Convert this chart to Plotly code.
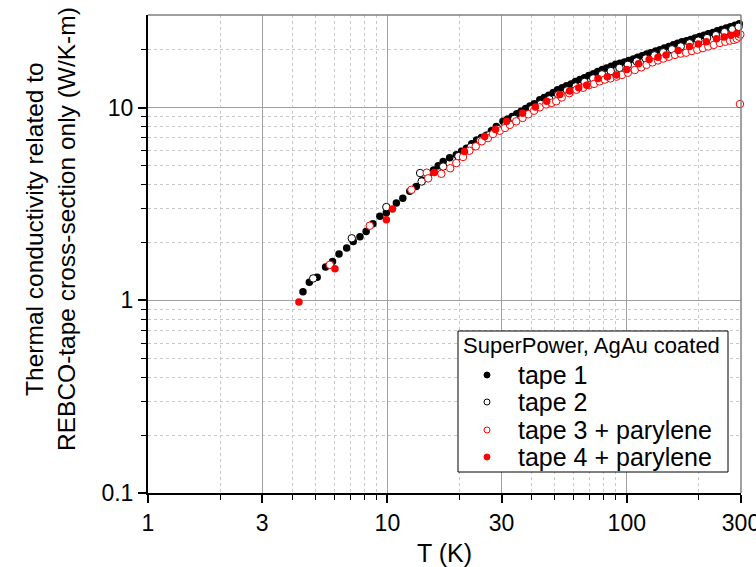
import plotly.graph_objects as go

# ---------------- data ----------------
tape1_T = [4.44, 4.72, 5.09, 5.52, 5.9, 6.28, 6.76, 7.2, 7.68, 8.15, 8.7, 9.3, 9.9, 10.9, 11.6,
           12.4, 13.2, 14.0, 14.8, 15.6, 16.3, 17.1, 18.2, 19.4, 20.4, 21.4, 22.5, 23.6, 24.7,
           25.9, 27.2, 28.5, 30.4, 31.8, 33.2, 34.7, 36.2, 37.8, 39.4, 41.1, 43.3, 45.2, 47.2,
           49.3, 51.4, 53.7, 56, 58.5, 61, 63.7, 66.5, 69.4, 72.5, 75.6, 79, 82.4, 86, 89.8,
           93.7, 97.8, 102, 106.5, 111, 116, 121, 126, 132, 137.5, 143.5, 150, 156.5, 163, 170,
           177.5, 185, 193, 201.5, 210, 219, 229, 239, 249, 260, 271, 283, 295]
tape1_k = [1.11, 1.24, 1.32, 1.49, 1.59, 1.74, 1.87, 2.02, 2.14, 2.28, 2.5, 2.73, 2.85, 3.2, 3.39,
           3.68, 3.9, 4.2, 4.45, 4.75, 5.0, 5.26, 5.5, 5.7, 5.95, 6.17, 6.5, 6.8, 7.0,
           7.2, 7.6, 8.0, 8.5, 8.75, 9.0, 9.3, 9.6, 9.9, 10.2, 10.5, 11.0, 11.3, 11.6,
           12.0, 12.4, 12.7, 13.0, 13.3, 13.7, 14.0, 14.3, 14.7, 15.0, 15.4, 15.8, 16.1, 16.4, 16.8,
           17.0, 17.3, 17.6, 17.9, 18.3, 18.6, 19.0, 19.3, 19.7, 20.0, 20.4, 20.8, 21.2, 21.6, 22.0,
           22.3, 22.6, 23.0, 23.4, 23.8, 24.2, 24.6, 25.1, 25.5, 25.9, 26.3, 26.8, 27.3]

tape2_T = [4.9, 7.1, 9.9, 13.7, 13.9, 17.1, 19.8, 22.3, 24.4, 26.6, 29, 31.2, 33.9, 36.9, 40.2,
           43.7, 47.5, 51.7, 56.3, 61.2, 66.6, 72.4, 78.8, 85.7, 93.2, 101, 110, 120, 130.5,
           142, 154.5, 168, 183, 199, 216.5, 235.5, 256, 276, 293]
tape2_k = [1.30, 2.1, 3.05, 4.58, 4.14, 4.95, 5.6, 6.25, 6.75, 7.2, 7.75, 8.2, 8.75, 9.3, 9.85,
           10.45, 11.05, 11.7, 12.3, 12.9, 13.6, 14.2, 14.9, 15.5, 16.1, 16.7, 17.4, 18.0, 18.7,
           19.4, 20.1, 20.8, 21.6, 22.3, 23.0, 23.8, 24.7, 25.5, 26.3]

tape3_T = [5.75, 8.44, 12.6, 14.6, 14.8, 16.8, 18.3, 19.4, 20.7, 22, 23.4, 24.8, 26.3, 27.6, 29.5,
           31, 32.5, 34.5, 36.7, 38.8, 41, 43.3, 46, 48.5, 50.7, 53.5, 57.5, 61.6, 65.7, 69.5,
           73, 77, 81, 85.5, 90.6, 95.5, 101, 108, 115, 121, 128, 135, 142, 150, 159, 168, 177,
           187, 197, 208, 219, 231, 245, 258, 270, 280, 288, 294, 298, 297]
tape3_k = [1.53, 2.44, 3.75, 4.6, 4.3, 4.54, 4.85, 5.16, 5.55, 5.98, 6.3, 6.7, 6.95, 7.3, 7.6,
           7.85, 8.15, 8.5, 8.85, 9.25, 9.65, 10.05, 10.4, 10.6, 10.8, 11.3, 11.9, 12.4, 12.7, 13.1,
           13.3, 13.7, 14.0, 14.2, 14.5, 14.8, 15.2, 15.7, 16.2, 16.7, 17.2, 17.6, 18.0, 18.4, 18.8, 19.1, 19.3,
           19.7, 20.0, 20.4, 20.8, 21.2, 21.7, 22.0, 22.3, 22.5, 22.8, 23.4, 24.0, 10.45]

tape4_T = [4.27, 6.04, 9.9, 10.5, 15.7, 21, 25.5, 28.3, 31.5, 36.7, 41.5, 46.3, 52.5, 57.7, 63,
           68, 75.8, 83, 90.6, 100, 112, 124, 135, 146, 164, 183, 199, 215, 237, 255, 272, 288, 300]
tape4_k = [0.98, 1.46, 2.62, 2.98, 4.61, 5.93, 7.1, 7.7, 8.5, 9.37, 10.1, 10.8, 11.7, 12.2, 12.7,
           13.1, 14.2, 14.5, 14.8, 15.8, 16.9, 17.8, 18.3, 18.8, 19.8, 20.8, 21.4, 22.0, 22.8, 23.3, 23.8, 24.3, 24.8]

legend_title = "SuperPower, AgAu coated"
names = ["tape 1", "tape 2", "tape 3 + parylene", "tape 4 + parylene"]

x_major = [1, 3, 10, 30, 100, 300]
x_minor = [2, 4, 5, 6, 7, 8, 9, 20, 40, 50, 60, 70, 80, 90, 200]
y_major = [0.1, 1, 10]
y_minor = [0.2, 0.3, 0.4, 0.5, 0.6, 0.7, 0.8, 0.9, 2, 3, 4, 5, 6, 7, 8, 9, 20]

# ---------------- layout constants (pixels) ----------------
W, H = 756, 567
L, R, T, B = 148, 15, 15, 74
PW, PH = W - L - R, H - T - B


def px(xp):
    return (xp - L) / PW


def py(yp):
    return (H - B - yp) / PH


# ---------------- figure ----------------
fill_col = ["black", "white", "white", "red"]
edge_col = ["black", "black", "red", "red"]
edge_w = [0, 1, 1, 0]
series = [(tape1_T, tape1_k), (tape2_T, tape2_k), (tape3_T, tape3_k), (tape4_T, tape4_k)]

fig = go.Figure()
for (xs, ys), fc, ec, ew, nm in zip(series, fill_col, edge_col, edge_w, names):
    fig.add_trace(go.Scatter(x=xs, y=ys, mode="markers", name=nm, showlegend=False,
                             cliponaxis=False,
                             marker=dict(symbol="circle", size=7.5, color=fc,
                                         line=dict(color=ec, width=ew))))

font = "Liberation Sans, Arial, sans-serif"
fig.update_layout(
    width=W, height=H,
    margin=dict(l=L, r=R, t=T, b=B),
    paper_bgcolor="white", plot_bgcolor="white",
    font=dict(family=font, color="black", size=20),
    showlegend=False,
)

fig.update_xaxes(
    type="log", range=[0, 2.47712], automargin=False, ticklabeloverflow="allow",
    tickvals=x_major, ticktext=[str(v) for v in x_major],
    tickfont=dict(size=23), ticks="outside", ticklen=8, tickwidth=1.5, tickcolor="black",
    showline=True, linecolor="black", linewidth=2,
    showgrid=True, gridcolor="#a0a0a0", gridwidth=1,
    minor=dict(tickvals=x_minor, ticks="outside", ticklen=5, tickwidth=1.2, tickcolor="black",
               showgrid=True, gridcolor="#c8c8c8", griddash="dot", gridwidth=1),
    zeroline=False,
    title=dict(text="T (K)", font=dict(size=25), standoff=10),
)
fig.update_yaxes(
    type="log", range=[-1, 1.4814], automargin=False,
    tickvals=y_major, ticktext=["0.1", "1", "10"],
    tickfont=dict(size=23), ticks="outside", ticklen=8, tickwidth=1.5, tickcolor="black",
    showline=True, linecolor="black", linewidth=2,
    showgrid=True, gridcolor="#a0a0a0", gridwidth=1,
    minor=dict(tickvals=y_minor, ticks="outside", ticklen=5, tickwidth=1.2, tickcolor="black",
               showgrid=True, gridcolor="#c8c8c8", griddash="dot", gridwidth=1),
    zeroline=False,
)

# top and right frame (gray)
fig.add_shape(type="line", xref="paper", yref="paper", x0=0, x1=1, y0=1, y1=1,
              line=dict(color="#808080", width=1.5))
fig.add_shape(type="line", xref="paper", yref="paper", x0=1, x1=1, y0=0, y1=1,
              line=dict(color="#808080", width=1.5))

# y axis title (two lines)
fig.add_annotation(xref="paper", yref="paper", x=0, y=py(229), xshift=-98,
                   xanchor="center", yanchor="middle", textangle=-90, showarrow=False,
                   text="Thermal conductivity related to<br>REBCO-tape cross-section only (W/K-m)",
                   font=dict(size=24.5, family=font, color="black"))

# legend box (drawn manually to match the reference layout)
fig.add_shape(type="rect", xref="paper", yref="paper",
              x0=px(458), x1=px(728), y0=py(472), y1=py(331),
              line=dict(color="black", width=1), fillcolor="white", layer="above")
fig.add_annotation(xref="paper", yref="paper", x=px(462), y=py(345), xanchor="left",
                   yanchor="middle", showarrow=False, text=legend_title, borderpad=0,
                   font=dict(size=22, family=font, color="black"))
item_y = [375, 402, 430, 457]
for nm, fc, ec, yy in zip(names, fill_col, edge_col, item_y):
    fig.add_shape(type="circle", xref="paper", yref="paper",
                  x0=px(484), x1=px(490), y0=py(yy + 3), y1=py(yy - 3),
                  fillcolor=fc, line=dict(color=ec, width=1), layer="above")
    fig.add_annotation(xref="paper", yref="paper", x=px(517), y=py(yy), xanchor="left",
                       yanchor="middle", showarrow=False, text=nm, borderpad=0,
                       font=dict(size=25, family=font, color="black"))

fig.write_html("out.html")
